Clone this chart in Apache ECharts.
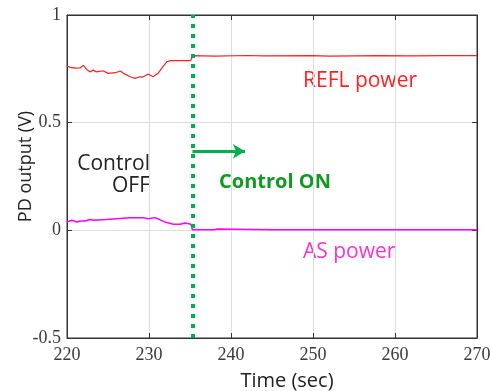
<!DOCTYPE html>
<html>
<head>
<meta charset="utf-8">
<script src="https://cdn.jsdelivr.net/npm/echarts@6/dist/echarts.min.js"></script>
<style>
  html, body { margin: 0; padding: 0; background: #fff; }
  #chart { width: 490px; height: 391px; }
</style>
</head>
<body>
<div id="chart"></div>
<script>
// REFL power (V) vs time (sec)
const reflTime = [220, 220.4, 221, 221.6, 222, 222.4, 222.8, 223.2, 223.6, 224.4, 225, 225.9, 226.5, 226.9,
  227.7, 228.3, 228.9, 229.3, 229.9, 230.5, 231.1, 231.7, 232.2, 232.6, 235.1, 235.3, 238, 242, 244,
  250, 252, 258, 262, 266, 270];
const reflValue = [0.763, 0.757, 0.753, 0.754, 0.766, 0.747, 0.736, 0.744, 0.736, 0.741, 0.729, 0.732, 0.74, 0.729,
  0.713, 0.706, 0.713, 0.713, 0.726, 0.713, 0.729, 0.76, 0.783, 0.788, 0.788, 0.811, 0.809, 0.812, 0.81,
  0.811, 0.809, 0.811, 0.81, 0.811, 0.811];

// AS power (V) vs time (sec)
const asTime = [220, 220.6, 221.2, 221.6, 222.2, 222.8, 223.2, 224.8, 227.7, 229.3, 229.9, 230.7, 231.3, 231.9,
  233, 233.8, 234.4, 235.1, 235.3, 238, 238.3, 245, 255, 270];
const asValue = [0.039, 0.047, 0.039, 0.043, 0.043, 0.05, 0.047, 0.05, 0.059, 0.059, 0.054, 0.059, 0.05, 0.039,
  0.028, 0.028, 0.034, 0.028, 0.003, 0.003, 0.006, 0.003, 0.003, 0.003];

const controlOnTime = 235.3;
const arrowFrom = [235.3, 0.367];
const arrowTo = [241.7, 0.367];

const xTicks = { min: 220, max: 270, interval: 10 };
const yTicks = { min: -0.5, max: 1, interval: 0.5 };

const chart = echarts.init(document.getElementById("chart"), null, { renderer: "canvas" });

const zip = (xs, ys) => xs.map((x, i) => [x, ys[i]]);

const tickFont = "Liberation Serif";
const textFont = "'Open Sans', sans-serif";

const option = {
  backgroundColor: "#fff",
  animation: false,
  grid: {
    left: 67,
    right: 13,
    top: 15,
    bottom: 53,
    containLabel: false,
    outerBoundsMode: "none",
    show: true,
    borderColor: "#333",
    borderWidth: 1,
  },
  xAxis: [
    {
      type: "value",
      min: xTicks.min,
      max: xTicks.max,
      interval: xTicks.interval,
      name: "Time (sec)",
      nameLocation: "middle",
      nameGap: 33,
      nameMoveOverlap: false,
      nameTextStyle: { fontFamily: textFont, fontSize: 20, color: "#222", padding: [0, 0, 0, 30] },
      axisLine: { onZero: false, lineStyle: { color: "#333" } },
      axisTick: { inside: true, length: 5, lineStyle: { color: "#333" } },
      axisLabel: { fontFamily: tickFont, fontSize: 18, color: "#3a3a3a", margin: 8 },
      splitLine: { lineStyle: { color: "#dedede" } },
    },
    {
      type: "value",
      position: "top",
      min: xTicks.min,
      max: xTicks.max,
      interval: xTicks.interval,
      axisLine: { onZero: false, lineStyle: { color: "#333" } },
      axisTick: { inside: true, length: 5, lineStyle: { color: "#333" } },
      axisLabel: { show: false },
      splitLine: { show: false },
    },
  ],
  yAxis: [
    {
      type: "value",
      min: yTicks.min,
      max: yTicks.max,
      interval: yTicks.interval,
      name: "PD output (V)",
      nameLocation: "middle",
      nameGap: 32,
      nameMoveOverlap: false,
      nameTextStyle: { fontFamily: textFont, fontSize: 18, color: "#222", padding: [0, 0, 0, 20] },
      axisLine: { onZero: false, lineStyle: { color: "#333" } },
      axisTick: { inside: true, length: 5, lineStyle: { color: "#333" } },
      axisLabel: { fontFamily: tickFont, fontSize: 18, color: "#3a3a3a", margin: 6 },
      splitLine: { lineStyle: { color: "#dedede" } },
    },
    {
      type: "value",
      position: "right",
      min: yTicks.min,
      max: yTicks.max,
      interval: yTicks.interval,
      axisLine: { onZero: false, lineStyle: { color: "#333" } },
      axisTick: { inside: true, length: 5, lineStyle: { color: "#333" } },
      axisLabel: { show: false },
      splitLine: { show: false },
    },
  ],
  series: [
    {
      name: "REFL power",
      type: "line",
      data: zip(reflTime, reflValue),
      symbol: "none",
      lineStyle: { color: "#ff2020", width: 1.2 },
      z: 3,
    },
    {
      name: "AS power",
      type: "line",
      data: zip(asTime, asValue),
      symbol: "none",
      lineStyle: { color: "#ff00ff", width: 1.5 },
      z: 3,
    },
    {
      name: "control",
      type: "line",
      data: [],
      markLine: {
        silent: true,
        symbol: "none",
        label: { show: false },
        lineStyle: { color: "#00b050", width: 4, type: [4, 6] },
        data: [{ xAxis: controlOnTime }],
      },
      z: 4,
    },
    {
      name: "arrow",
      type: "line",
      data: [],
      markLine: {
        silent: true,
        symbol: ["none", "arrow"],
        symbolSize: [11, 12],
        label: { show: false },
        lineStyle: { color: "#00b050", width: 3, type: "solid" },
        data: [[{ coord: arrowFrom }, { coord: arrowTo }]],
      },
      z: 5,
    },
  ],
  graphic: [
    {
      type: "text",
      x: 303,
      y: 71,
      style: { text: "REFL power", fill: "#ff2020", font: "21px " + textFont },
    },
    {
      type: "text",
      x: 150,
      y: 153,
      style: { text: "Control\nOFF", fill: "#222", font: "21px " + textFont, align: "right", lineHeight: 22 },
    },
    {
      type: "text",
      x: 219,
      y: 172,
      style: { text: "Control ON", fill: "#119a22", font: "bold 20px " + textFont },
    },
    {
      type: "text",
      x: 303,
      y: 242,
      style: { text: "AS power", fill: "#ff30d0", font: "21px " + textFont },
    },
  ],
};

chart.setOption(option);
</script>
</body>
</html>
